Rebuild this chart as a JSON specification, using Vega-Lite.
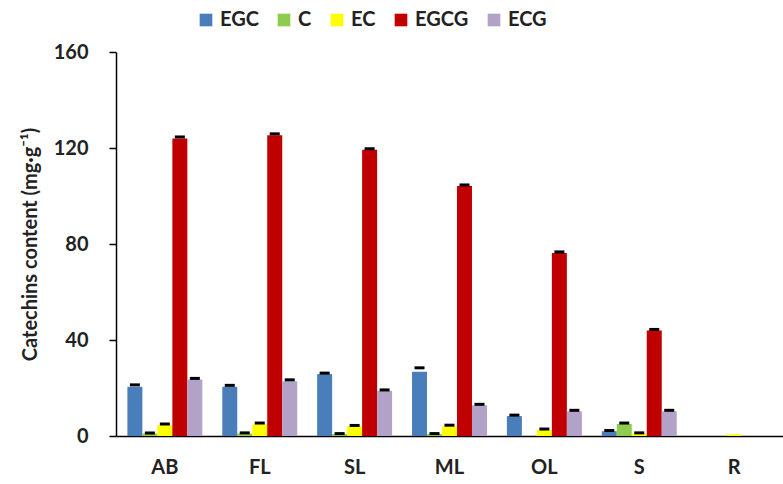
{
  "$schema": "https://vega.github.io/schema/vega-lite/v6.json",
  "width": 667,
  "height": 384,
  "autosize": {"type": "none"},
  "padding": {"left": 116, "top": 52, "right": 0, "bottom": 48},
  "background": "white",
  "data": {
    "values": [
      {"tissue": "AB", "catechin": "EGC", "value": 20.5, "err": 0.8},
      {"tissue": "AB", "catechin": "C", "value": 1.0, "err": 0.3},
      {"tissue": "AB", "catechin": "EC", "value": 4.5, "err": 0.5},
      {"tissue": "AB", "catechin": "EGCG", "value": 124, "err": 0.6},
      {"tissue": "AB", "catechin": "ECG", "value": 23.5, "err": 0.5},
      {"tissue": "FL", "catechin": "EGC", "value": 20.5, "err": 0.6},
      {"tissue": "FL", "catechin": "C", "value": 1.0, "err": 0.3},
      {"tissue": "FL", "catechin": "EC", "value": 4.8, "err": 0.6},
      {"tissue": "FL", "catechin": "EGCG", "value": 125.3, "err": 0.6},
      {"tissue": "FL", "catechin": "ECG", "value": 22.8, "err": 0.6},
      {"tissue": "SL", "catechin": "EGC", "value": 25.8, "err": 0.4},
      {"tissue": "SL", "catechin": "C", "value": 0.8, "err": 0.2},
      {"tissue": "SL", "catechin": "EC", "value": 4.0, "err": 0.4},
      {"tissue": "SL", "catechin": "EGCG", "value": 119.3, "err": 0.4},
      {"tissue": "SL", "catechin": "ECG", "value": 18.8, "err": 0.4},
      {"tissue": "ML", "catechin": "EGC", "value": 26.8, "err": 1.6},
      {"tissue": "ML", "catechin": "C", "value": 0.8, "err": 0.2},
      {"tissue": "ML", "catechin": "EC", "value": 4.0, "err": 0.5},
      {"tissue": "ML", "catechin": "EGCG", "value": 104.2, "err": 0.4},
      {"tissue": "ML", "catechin": "ECG", "value": 12.8, "err": 0.4},
      {"tissue": "OL", "catechin": "EGC", "value": 8.3, "err": 0.4},
      {"tissue": "OL", "catechin": "C", "value": 0, "err": 0},
      {"tissue": "OL", "catechin": "EC", "value": 2.5, "err": 0.4},
      {"tissue": "OL", "catechin": "EGCG", "value": 76.3, "err": 0.4},
      {"tissue": "OL", "catechin": "ECG", "value": 10.3, "err": 0.4},
      {"tissue": "S", "catechin": "EGC", "value": 2.0, "err": 0.3},
      {"tissue": "S", "catechin": "C", "value": 5.0, "err": 0.4},
      {"tissue": "S", "catechin": "EC", "value": 1.0, "err": 0.3},
      {"tissue": "S", "catechin": "EGCG", "value": 44.0, "err": 0.4},
      {"tissue": "S", "catechin": "ECG", "value": 10.3, "err": 0.4},
      {"tissue": "R", "catechin": "EGC", "value": 0, "err": 0},
      {"tissue": "R", "catechin": "C", "value": 0, "err": 0},
      {"tissue": "R", "catechin": "EC", "value": 0.7, "err": 0},
      {"tissue": "R", "catechin": "EGCG", "value": 0, "err": 0},
      {"tissue": "R", "catechin": "ECG", "value": 0, "err": 0}
    ]
  },
  "encoding": {
    "x": {
      "field": "tissue",
      "type": "nominal",
      "sort": ["AB", "FL", "SL", "ML", "OL", "S", "R"],
      "scale": {"paddingInner": 0.21, "paddingOuter": 0.12},
      "axis": {
        "title": null,
        "labelAngle": 0,
        "ticks": false,
        "domainColor": "black",
        "domainWidth": 1.5,
        "labelFont": "Lato",
        "labelFontWeight": "bold",
        "labelFontSize": 20,
        "labelColor": "#222222",
        "labelPadding": 21
      }
    },
    "xOffset": {
      "field": "catechin",
      "type": "nominal",
      "sort": ["EGC", "C", "EC", "EGCG", "ECG"],
      "scale": {"paddingInner": 0, "paddingOuter": 0}
    }
  },
  "layer": [
    {
      "mark": {"type": "bar"},
      "encoding": {
        "y": {
          "field": "value",
          "type": "quantitative",
          "scale": {"domain": [0, 160]},
          "axis": {
            "title": "Catechins content (mg·g⁻¹)",
            "titleFont": "Lato",
            "titleFontWeight": "bold",
            "titleFontSize": 20,
            "titleColor": "#222222",
            "titlePadding": 13,
            "values": [0, 40, 80, 120, 160],
            "grid": false,
            "domainColor": "black",
            "domainWidth": 1.5,
            "tickColor": "black",
            "tickSize": 7,
            "tickWidth": 1.5,
            "labelFont": "Lato",
            "labelFontWeight": "bold",
            "labelFontSize": 20,
            "labelColor": "#222222",
            "labelPadding": 21
          }
        },
        "color": {
          "field": "catechin",
          "type": "nominal",
          "sort": ["EGC", "C", "EC", "EGCG", "ECG"],
          "scale": {
            "domain": ["EGC", "C", "EC", "EGCG", "ECG"],
            "range": ["#4A7EBB", "#8FCB4E", "#FFFF00", "#C00000", "#B3A2C7"]
          },
          "legend": {
            "title": null,
            "orient": "none",
            "legendX": 80,
            "legendY": -42,
            "direction": "horizontal",
            "symbolType": "square",
            "symbolSize": 160,
            "symbolStrokeWidth": 0,
            "labelFont": "Lato",
            "labelFontWeight": "bold",
            "labelFontSize": 20,
            "labelColor": "#222222",
            "columnPadding": 15,
            "labelOffset": 4
          }
        }
      }
    },
    {
      "transform": [{"filter": "datum.err > 0"}, {"calculate": "datum.value + datum.err", "as": "hi"}],
      "mark": {"type": "tick", "color": "black", "opacity": 1, "thickness": 3, "size": 10},
      "encoding": {
        "y": {"field": "hi", "type": "quantitative"}
      }
    }
  ],
  "config": {"view": {"stroke": null}}
}
